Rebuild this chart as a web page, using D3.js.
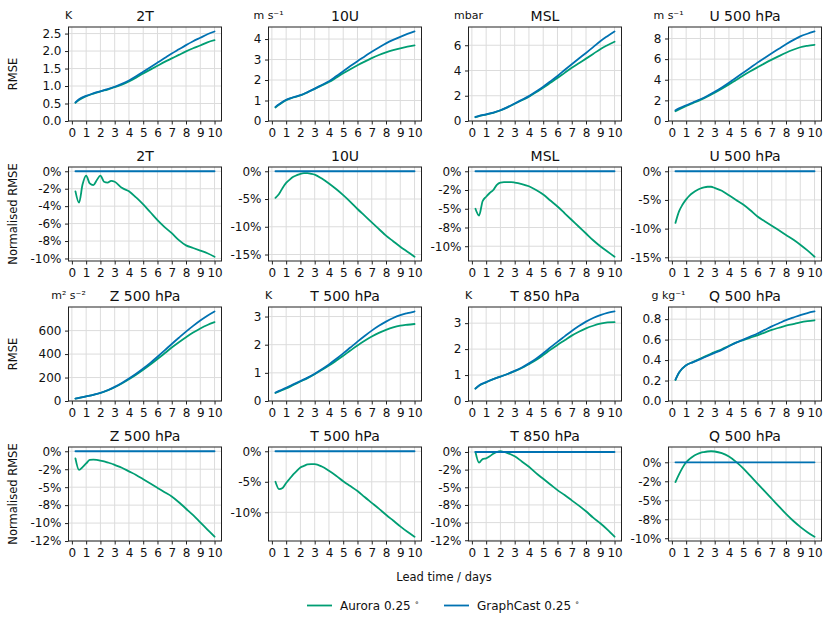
<!DOCTYPE html>
<html>
<head>
<meta charset="utf-8">
<script src="https://cdn.jsdelivr.net/npm/d3@7"></script>
<style>
  html, body { margin: 0; padding: 0; background: #fff; }
  svg { display: block; font-family: "DejaVu Sans", sans-serif; }
</style>
</head>
<body>
<svg id="chart" width="830" height="634"></svg>
<script>
// ---------------- DATA ----------------
const variables = ["2T", "10U", "MSL", "U 500 hPa", "Z 500 hPa", "T 500 hPa", "T 850 hPa", "Q 500 hPa"];
const units = ["K", "m s⁻¹", "mbar", "m s⁻¹", "m² s⁻²", "K", "K", "g kg⁻¹"];
const seriesNames = ["Aurora 0.25", "GraphCast 0.25"];
const xTicks = [0, 1, 2, 3, 4, 5, 6, 7, 8, 9, 10];

const rmseDays = [0.25, 0.5, 1, 1.5, 2, 2.5, 3, 3.5, 4, 4.5, 5, 5.5, 6, 6.5, 7, 7.5, 8, 8.5, 9, 9.5, 10];
const normDays = [0.25, 0.5, 0.75, 1, 1.25, 1.5, 1.75, 2, 2.25, 2.5, 2.75, 3, 3.5, 4, 4.5, 5, 5.5, 6, 6.5, 7, 7.5, 8, 8.5, 9, 9.5, 10];

// RMSE, GraphCast
const graphcastRmse2T   = [0.53, 0.62, 0.72, 0.79, 0.85, 0.91, 0.98, 1.06, 1.16, 1.28, 1.41, 1.54, 1.67, 1.80, 1.93, 2.05, 2.17, 2.28, 2.38, 2.48, 2.56];
const graphcastRmse10U  = [0.69, 0.82, 1.04, 1.16, 1.26, 1.41, 1.58, 1.76, 1.94, 2.18, 2.43, 2.68, 2.92, 3.15, 3.38, 3.59, 3.79, 3.96, 4.11, 4.25, 4.37];
const graphcastRmseMSL  = [0.32, 0.40, 0.53, 0.67, 0.85, 1.10, 1.39, 1.67, 1.97, 2.33, 2.72, 3.14, 3.57, 4.04, 4.50, 4.95, 5.39, 5.85, 6.32, 6.72, 7.09];
const graphcastRmseU500 = [1.04, 1.22, 1.53, 1.82, 2.11, 2.45, 2.83, 3.25, 3.71, 4.19, 4.68, 5.17, 5.66, 6.12, 6.57, 7.01, 7.45, 7.84, 8.20, 8.46, 8.68];
const graphcastRmseZ500 = [20, 27, 40, 53, 69, 92, 120, 153, 191, 232, 277, 325, 377, 431, 486, 539, 591, 640, 686, 727, 763];
const graphcastRmseT500 = [0.30, 0.36, 0.47, 0.59, 0.71, 0.83, 0.97, 1.13, 1.30, 1.49, 1.69, 1.90, 2.11, 2.31, 2.50, 2.67, 2.82, 2.95, 3.05, 3.12, 3.18];
const graphcastRmseT850 = [0.48, 0.60, 0.73, 0.84, 0.94, 1.04, 1.16, 1.29, 1.45, 1.63, 1.84, 2.06, 2.28, 2.49, 2.70, 2.89, 3.06, 3.20, 3.31, 3.40, 3.45];
const graphcastRmseQ500 = [0.21, 0.28, 0.35, 0.38, 0.41, 0.44, 0.47, 0.50, 0.535, 0.57, 0.60, 0.63, 0.66, 0.695, 0.73, 0.76, 0.79, 0.815, 0.84, 0.86, 0.875];

// RMSE, Aurora
const auroraRmse2T   = [0.52, 0.60, 0.71, 0.78, 0.85, 0.90, 0.97, 1.04, 1.13, 1.24, 1.36, 1.47, 1.58, 1.69, 1.79, 1.89, 1.99, 2.08, 2.16, 2.25, 2.31];
const auroraRmse10U  = [0.66, 0.79, 1.02, 1.15, 1.25, 1.40, 1.57, 1.74, 1.90, 2.11, 2.33, 2.53, 2.72, 2.90, 3.07, 3.22, 3.35, 3.46, 3.55, 3.63, 3.69];
const auroraRmseMSL  = [0.30, 0.38, 0.51, 0.65, 0.84, 1.08, 1.37, 1.64, 1.93, 2.27, 2.64, 3.02, 3.40, 3.81, 4.21, 4.58, 4.94, 5.31, 5.69, 6.00, 6.28];
const auroraRmseU500 = [0.95, 1.13, 1.45, 1.75, 2.05, 2.38, 2.75, 3.14, 3.55, 3.98, 4.41, 4.82, 5.21, 5.59, 5.95, 6.29, 6.62, 6.91, 7.15, 7.29, 7.39];
const auroraRmseZ500 = [19.8, 26.3, 39.3, 52.4, 68.1, 90.6, 117.7, 149.5, 185.7, 224.3, 266.2, 310.4, 357.8, 406.4, 455.4, 500.7, 543.7, 583, 618, 648, 672];
const auroraRmseT500 = [0.285, 0.338, 0.446, 0.568, 0.691, 0.812, 0.950, 1.102, 1.258, 1.430, 1.607, 1.792, 1.973, 2.137, 2.289, 2.419, 2.527, 2.615, 2.675, 2.708, 2.735];
const auroraRmseT850 = [0.48, 0.59, 0.72, 0.84, 0.94, 1.04, 1.15, 1.27, 1.42, 1.58, 1.77, 1.97, 2.16, 2.34, 2.52, 2.67, 2.80, 2.90, 2.98, 3.03, 3.04];
const auroraRmseQ500 = [0.205, 0.276, 0.35, 0.383, 0.415, 0.446, 0.477, 0.506, 0.539, 0.570, 0.595, 0.619, 0.642, 0.669, 0.695, 0.716, 0.736, 0.752, 0.769, 0.781, 0.789];

// Normalised RMSE (%), Aurora relative to GraphCast
const auroraNorm2T   = [-2.3, -3.6, -1.5, -0.5, -1.4, -1.6, -1.0, -0.5, -1.2, -1.3, -1.1, -1.2, -1.9, -2.3, -3.0, -3.8, -4.7, -5.6, -6.4, -7.1, -7.9, -8.5, -8.8, -9.1, -9.4, -9.8];
const auroraNorm10U  = [-4.8, -4.1, -3.0, -2.1, -1.5, -1.0, -0.7, -0.45, -0.35, -0.35, -0.45, -0.6, -1.3, -2.2, -3.2, -4.3, -5.5, -6.8, -8.0, -9.2, -10.4, -11.6, -12.6, -13.6, -14.5, -15.4];
const auroraNormMSL  = [-5.0, -5.9, -4.0, -3.4, -2.9, -2.5, -1.8, -1.5, -1.45, -1.45, -1.45, -1.5, -1.7, -2.0, -2.5, -3.1, -3.9, -4.7, -5.6, -6.5, -7.4, -8.3, -9.2, -10.0, -10.7, -11.4];
const auroraNormU500 = [-9.0, -7.0, -5.8, -4.9, -4.2, -3.7, -3.3, -3.0, -2.8, -2.7, -2.7, -2.9, -3.4, -4.2, -5.0, -5.8, -6.8, -7.9, -8.7, -9.5, -10.3, -11.1, -11.9, -12.8, -13.8, -14.9];
const auroraNormZ500 = [-1.0, -2.6, -2.2, -1.7, -1.2, -1.15, -1.2, -1.3, -1.4, -1.55, -1.7, -1.9, -2.3, -2.8, -3.3, -3.9, -4.5, -5.1, -5.7, -6.3, -7.1, -8.0, -8.9, -9.9, -10.9, -11.9];
const auroraNormT500 = [-5.0, -6.2, -6.0, -5.2, -4.5, -3.8, -3.2, -2.65, -2.4, -2.15, -2.1, -2.1, -2.5, -3.2, -4.0, -4.9, -5.7, -6.5, -7.5, -8.45, -9.4, -10.4, -11.35, -12.3, -13.2, -14.0];
const auroraNormT850 = [0.0, -1.5, -1.0, -0.9, -0.6, -0.25, 0.0, 0.1, 0.0, -0.15, -0.35, -0.6, -1.35, -2.1, -3.0, -3.8, -4.6, -5.4, -6.1, -6.85, -7.6, -8.4, -9.3, -10.1, -11.0, -12.0];
const auroraNormQ500 = [-2.6, -1.6, -0.7, 0.0, 0.45, 0.8, 1.05, 1.25, 1.35, 1.42, 1.45, 1.42, 1.2, 0.75, 0.05, -0.8, -1.8, -2.8, -3.8, -4.8, -5.8, -6.8, -7.7, -8.5, -9.2, -9.8];
const graphcastNorm  = [0, 0, 0, 0, 0, 0, 0, 0, 0, 0, 0, 0, 0, 0, 0, 0, 0, 0, 0, 0, 0, 0, 0, 0, 0, 0];

// Tick values / labels
const rmseTicks = [[0, 0.5, 1, 1.5, 2, 2.5], [0, 1, 2, 3, 4], [0, 2, 4, 6], [0, 2, 4, 6, 8],
                   [0, 200, 400, 600], [0, 1, 2, 3], [0, 1, 2, 3], [0, 0.2, 0.4, 0.6, 0.8]];
const rmseTickLabels = [["0.0", "0.5", "1.0", "1.5", "2.0", "2.5"], ["0", "1", "2", "3", "4"], ["0", "2", "4", "6"], ["0", "2", "4", "6", "8"],
                        ["0", "200", "400", "600"], ["0", "1", "2", "3"], ["0", "1", "2", "3"], ["0.0", "0.2", "0.4", "0.6", "0.8"]];
const normTicks = [[0, -2, -4, -6, -8, -10], [0, -5, -10, -15], [0, -2.5, -5, -7.5, -10], [0, -5, -10, -15],
                   [0, -2.5, -5, -7.5, -10, -12.5], [0, -5, -10], [0, -2.5, -5, -7.5, -10, -12.5], [0, -2.5, -5, -7.5, -10]];
const normTickLabels = [["0%", "-2%", "-4%", "-6%", "-8%", "-10%"], ["0%", "-5%", "-10%", "-15%"], ["0%", "-2%", "-5%", "-8%", "-10%"], ["0%", "-5%", "-10%", "-15%"],
                        ["0%", "-2%", "-5%", "-8%", "-10%", "-12%"], ["0%", "-5%", "-10%"], ["0%", "-2%", "-5%", "-8%", "-10%", "-12%"], ["0%", "-2%", "-5%", "-8%", "-10%"]];

const auroraRmse = [auroraRmse2T, auroraRmse10U, auroraRmseMSL, auroraRmseU500, auroraRmseZ500, auroraRmseT500, auroraRmseT850, auroraRmseQ500];
const graphcastRmse = [graphcastRmse2T, graphcastRmse10U, graphcastRmseMSL, graphcastRmseU500, graphcastRmseZ500, graphcastRmseT500, graphcastRmseT850, graphcastRmseQ500];
const auroraNorm = [auroraNorm2T, auroraNorm10U, auroraNormMSL, auroraNormU500, auroraNormZ500, auroraNormT500, auroraNormT850, auroraNormQ500];

// ---------------- LAYOUT / STYLE ----------------
const colors = { aurora: "#009E73", graphcast: "#0072B2" };
const plotW = 153, plotH = 94;
const colLeft = [68.5, 268.5, 468.5, 668.5];
const rowTop = [27, 167, 307, 447];
const textColor = "#111";
const gridColor = "#dcdcdc";
const tickFont = "12px", titleFont = "14px", unitFont = "11px", labelFont = "11.5px", legendFont = "12px";

const svg = d3.select("#chart");

function drawPanel(row, col, varIdx, kind) {
  const left = colLeft[col], top = rowTop[row];
  const g = svg.append("g").attr("transform", `translate(${left},${top})`);
  const x = d3.scaleLinear().domain([0.25 - 0.4875, 10 + 0.4875]).range([0, plotW]);

  let series, ticks, labels, y;
  if (kind === "rmse") {
    series = [
      { days: rmseDays, vals: auroraRmse[varIdx], color: colors.aurora },
      { days: rmseDays, vals: graphcastRmse[varIdx], color: colors.graphcast }
    ];
    const mx = d3.max(series, s => d3.max(s.vals));
    y = d3.scaleLinear().domain([0, mx * 1.05]).range([plotH, 0]);
    ticks = rmseTicks[varIdx]; labels = rmseTickLabels[varIdx];
  } else {
    series = [
      { days: normDays, vals: auroraNorm[varIdx], color: colors.aurora },
      { days: normDays, vals: graphcastNorm, color: colors.graphcast }
    ];
    const mn = d3.min(series, s => d3.min(s.vals));
    const mx = d3.max(series, s => d3.max(s.vals));
    const pad = (mx - mn) * 0.05;
    y = d3.scaleLinear().domain([mn - pad, mx + pad]).range([plotH, 0]);
    ticks = normTicks[varIdx]; labels = normTickLabels[varIdx];
  }

  // grid
  g.append("g").selectAll("line").data(xTicks).join("line")
    .attr("x1", d => x(d)).attr("x2", d => x(d)).attr("y1", 0).attr("y2", plotH)
    .attr("stroke", gridColor).attr("stroke-width", 1);
  g.append("g").selectAll("line").data(ticks).join("line")
    .attr("x1", 0).attr("x2", plotW).attr("y1", d => y(d)).attr("y2", d => y(d))
    .attr("stroke", gridColor).attr("stroke-width", 1);

  // lines
  const clipId = `clip-${row}-${col}`;
  g.append("clipPath").attr("id", clipId).append("rect").attr("width", plotW).attr("height", plotH);
  const lg = g.append("g").attr("clip-path", `url(#${clipId})`);
  series.forEach(s => {
    const line = d3.line().x((d, i) => x(s.days[i])).y(d => y(d)).curve(d3.curveMonotoneX);
    lg.append("path").datum(s.vals).attr("d", line)
      .attr("fill", "none").attr("stroke", s.color).attr("stroke-width", 1.8)
      .attr("stroke-linejoin", "round").attr("stroke-linecap", "round");
  });

  // frame
  g.append("rect").attr("width", plotW).attr("height", plotH)
    .attr("fill", "none").attr("stroke", "#222").attr("stroke-width", 1);

  // axes
  const ya = d3.axisLeft(y).tickValues(ticks).tickSize(3.5).tickPadding(3.5)
    .tickFormat((d, i) => labels[i]);
  const yg = g.append("g").call(ya);
  const xa = d3.axisBottom(x).tickValues(xTicks).tickSize(3.5).tickPadding(3.5)
    .tickFormat(d3.format("d"));
  const xg = g.append("g").attr("transform", `translate(0,${plotH})`).call(xa);
  [yg, xg].forEach(a => {
    a.select(".domain").remove();
    a.selectAll(".tick line").attr("stroke", "#222");
    a.selectAll(".tick text").attr("fill", textColor)
      .style("font-size", tickFont).style("font-family", "DejaVu Sans, sans-serif");
  });

  // title
  g.append("text").attr("x", plotW / 2).attr("y", -6.5).attr("text-anchor", "middle")
    .attr("fill", textColor).style("font-size", titleFont).text(variables[varIdx]);
  // unit
  if (kind === "rmse") {
    g.append("text").attr("x", 0).attr("y", -8.5).attr("text-anchor", "middle")
      .attr("fill", textColor).style("font-size", unitFont).text(units[varIdx]);
  }
  // y-label
  if (col === 0) {
    svg.append("text")
      .attr("transform", `translate(17,${top + plotH / 2}) rotate(-90)`)
      .attr("text-anchor", "middle").attr("fill", textColor).style("font-size", labelFont)
      .text(kind === "rmse" ? "RMSE" : "Normalised RMSE");
  }
}

for (let block = 0; block < 2; block++) {
  for (let c = 0; c < 4; c++) {
    const v = block * 4 + c;
    drawPanel(block * 2, c, v, "rmse");
    drawPanel(block * 2 + 1, c, v, "norm");
  }
}

// x label
svg.append("text").attr("x", 444).attr("y", 581).attr("text-anchor", "middle")
  .attr("fill", textColor).style("font-size", labelFont).text("Lead time / days");

// legend
const legendItems = [
  { name: seriesNames[0], color: colors.aurora, x: 307 },
  { name: seriesNames[1], color: colors.graphcast, x: 444 }
];
legendItems.forEach(it => {
  svg.append("line").attr("x1", it.x).attr("x2", it.x + 25).attr("y1", 605.5).attr("y2", 605.5)
    .attr("stroke", it.color).attr("stroke-width", 1.8);
  const t = svg.append("text").attr("x", it.x + 33).attr("y", 609.5)
    .attr("fill", textColor).style("font-size", legendFont);
  t.append("tspan").text(it.name + " ");
  t.append("tspan").attr("dy", -4.5).style("font-size", "7.5px").text("∘");
});
</script>
</body>
</html>
